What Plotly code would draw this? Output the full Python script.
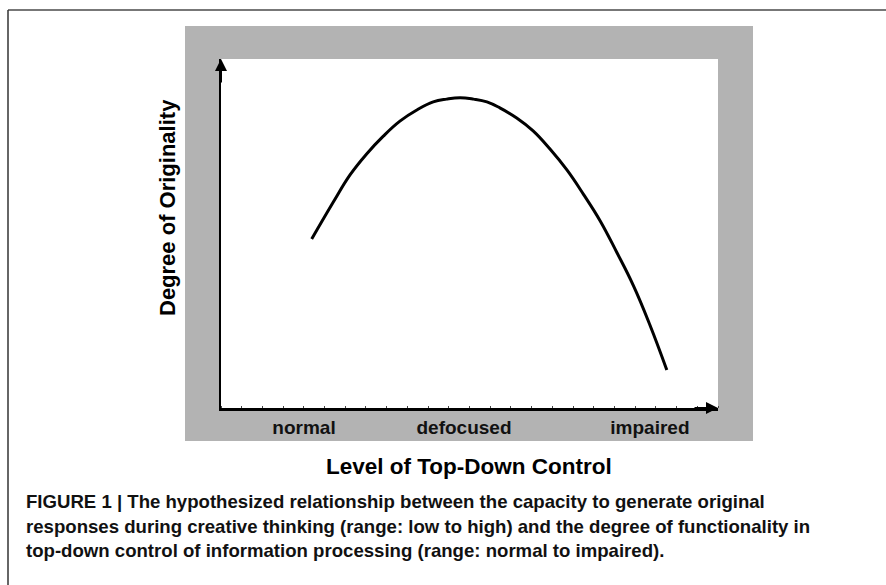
import numpy as np
import plotly.graph_objects as go

# ---- data ----
curve_x = [18.25, 22.6, 25.96, 29.3, 32.66, 36.0, 39.4, 42.7, 45.4, 48.1, 50.8, 53.5,
           56.1, 59.5, 62.8, 66.2, 69.6, 72.9, 76.3, 79.6, 83.0, 86.3, 89.7]
curve_y = [48.4, 59.0, 66.8, 72.8, 77.9, 82.2, 85.4, 87.7, 88.5, 88.9, 88.5, 87.7,
           86.0, 83.1, 79.4, 74.2, 68.2, 61.3, 53.6, 44.7, 35.0, 23.8, 10.9]
tick_labels = ["normal", "defocused", "impaired"]
tick_pos = [16.7, 48.9, 86.3]
x_title = "Level of Top-Down Control"
y_title = "Degree of Originality"
caption_lines = [
    "FIGURE 1 | The hypothesized relationship between the capacity to generate original",
    "responses during creative thinking (range: low to high) and the degree of functionality in",
    "top-down control of information processing (range: normal to impaired).",
]

W, H = 886, 585
L, R, T, B = 221, 168, 59, 177
pw, ph = W - L - R, H - T - B

def px(x):
    return (x - L) / pw

def py(y):
    return (H - B - y) / ph

FONT = "Liberation Sans, Arial, sans-serif"

fig = go.Figure()
fig.add_trace(go.Scatter(
    x=curve_x, y=curve_y, mode="lines",
    line=dict(color="black", width=3, shape="spline", smoothing=1.2),
    hoverinfo="skip", showlegend=False,
))

shapes = [
    # gray panel
    dict(type="rect", xref="paper", yref="paper", x0=px(185), x1=px(753), y0=py(441), y1=py(26),
         fillcolor="#b3b3b3", line=dict(width=0), layer="below"),
    # white plotting area
    dict(type="rect", xref="paper", yref="paper", x0=0, x1=px(718), y0=0, y1=1,
         fillcolor="white", line=dict(width=0), layer="below"),
    # outer frame lines
    dict(type="line", xref="paper", yref="paper", x0=px(8), x1=px(890), y0=py(10), y1=py(10),
         line=dict(color="#777777", width=2)),
    dict(type="line", xref="paper", yref="paper", x0=px(8), x1=px(8), y0=py(10), y1=py(590),
         line=dict(color="#333333", width=1.5)),
]

annotations = [
    # axis arrows
    dict(x=0, y=100, xref="x", yref="y", ax=0, ay=25, axref="pixel", ayref="pixel",
         text="", showarrow=True, arrowhead=2, arrowsize=1.2, arrowwidth=2, arrowcolor="black"),
    dict(x=100, y=0, xref="x", yref="y", ax=-25, ay=0, axref="pixel", ayref="pixel",
         text="", showarrow=True, arrowhead=2, arrowsize=1.2, arrowwidth=2, arrowcolor="black"),
    # axis titles
    dict(x=px(469), y=py(467), xref="paper", yref="paper", text="<b>%s</b>" % x_title,
         showarrow=False, font=dict(family=FONT, size=22.5, color="black"),
         xanchor="center", yanchor="middle"),
    dict(x=px(167), y=py(208), xref="paper", yref="paper", text="<b>%s</b>" % y_title,
         showarrow=False, textangle=-90, font=dict(family=FONT, size=22, color="black"),
         xanchor="center", yanchor="middle"),
]
for i, line in enumerate(caption_lines):
    annotations.append(dict(
        x=px(24), y=py(502 + 24 * i), xref="paper", yref="paper", text="<b>%s</b>" % line,
        showarrow=False, font=dict(family=FONT, size=18.6, color="#111111"),
        xanchor="left", yanchor="middle", align="left"))

fig.update_layout(
    width=W, height=H, margin=dict(l=L, r=R, t=T, b=B, autoexpand=False),
    paper_bgcolor="white", plot_bgcolor="white",
    shapes=shapes, annotations=annotations, showlegend=False,
)
fig.update_xaxes(
    range=[0, 100], showgrid=False, zeroline=False,
    showline=True, linecolor="black", linewidth=2.5,
    tickmode="array", tickvals=tick_pos, ticktext=["<b>%s</b>" % t for t in tick_labels],
    ticks="", tickfont=dict(family=FONT, size=19, color="#111111"),
    minor=dict(tickmode="array", tickvals=list(np.linspace(0, 100, 25)),
               ticks="inside", ticklen=2, tickwidth=1, tickcolor="#444444"),
    fixedrange=True,
)
fig.update_yaxes(
    range=[0, 100], showgrid=False, zeroline=False,
    showline=True, linecolor="black", linewidth=2,
    showticklabels=False, ticks="", fixedrange=True,
)

fig.write_html(
    "out.html",
    config={"displayModeBar": False},
    post_script="document.body.style.margin='0';document.body.style.overflow='hidden';",
)
